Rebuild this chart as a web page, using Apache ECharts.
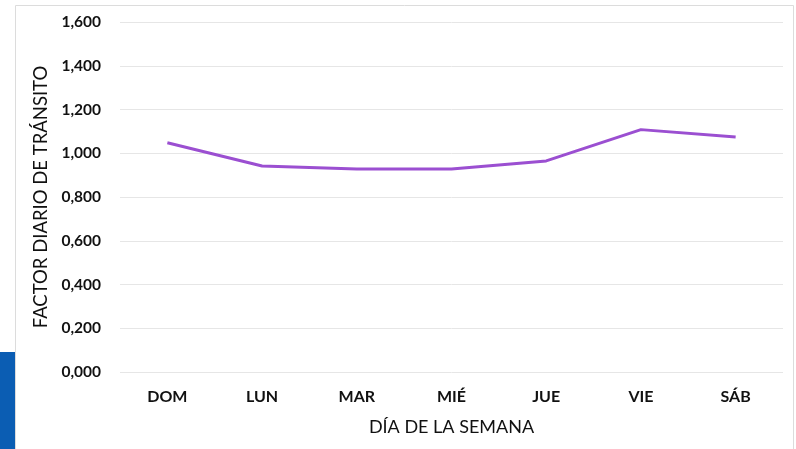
<!DOCTYPE html>
<html>
<head>
<meta charset="utf-8">
<script src="https://cdn.jsdelivr.net/npm/echarts@6/dist/echarts.min.js"></script>
<style>
  html, body { margin: 0; padding: 0; background: #ffffff; }
  #chart { width: 796px; height: 449px; }
</style>
</head>
<body>
<div id="chart"></div>
<script>
// Daily traffic factor by day of the week
const days = ['DOM', 'LUN', 'MAR', 'MIÉ', 'JUE', 'VIE', 'SÁB'];
const factors = [1.048, 0.942, 0.928, 0.928, 0.965, 1.108, 1.074];

const chart = echarts.init(document.getElementById('chart'));
const font = 'Lato, "Open Sans", sans-serif';

chart.setOption({
  backgroundColor: '#ffffff',
  animation: false,
  graphic: [
    // blue accent strip on the left edge
    { type: 'rect', shape: { x: 0, y: 352, width: 15, height: 97 },
      style: { fill: '#0b5db3' }, z: -1 },
    // light card outline
    { type: 'rect', shape: { x: 15.5, y: 5.5, width: 778, height: 450 },
      style: { fill: 'none', stroke: '#dcdcdc', lineWidth: 1 }, z: -1 }
  ],
  grid: { left: 120, right: 13, top: 22, bottom: 77 },
  xAxis: {
    type: 'category',
    data: days,
    boundaryGap: true,
    axisLine: { show: false },
    axisTick: { show: false },
    axisLabel: { fontFamily: font, fontWeight: 'bold', fontSize: 16, color: '#111111', margin: 17 },
    name: 'DÍA DE LA SEMANA',
    nameLocation: 'middle',
    nameGap: 46,
    nameTextStyle: { fontFamily: font, fontSize: 18, color: '#111111' }
  },
  yAxis: {
    type: 'value',
    min: 0,
    max: 1.6,
    interval: 0.2,
    axisLine: { show: false },
    axisTick: { show: false },
    splitLine: { lineStyle: { color: '#e6e6e6', width: 1 } },
    axisLabel: {
      fontFamily: font, fontWeight: 'bold', fontSize: 15.5, color: '#111111', margin: 19,
      formatter: v => v.toFixed(3).replace('.', ',')
    },
    name: 'FACTOR DIARIO DE TRÁNSITO',
    nameLocation: 'middle',
    nameGap: 68,
    nameTextStyle: { fontFamily: font, fontSize: 18.5, color: '#111111' }
  },
  series: [{
    type: 'line',
    data: factors,
    symbol: 'none',
    lineStyle: { color: '#9b4fd1', width: 3 }
  }]
});
</script>
</body>
</html>
